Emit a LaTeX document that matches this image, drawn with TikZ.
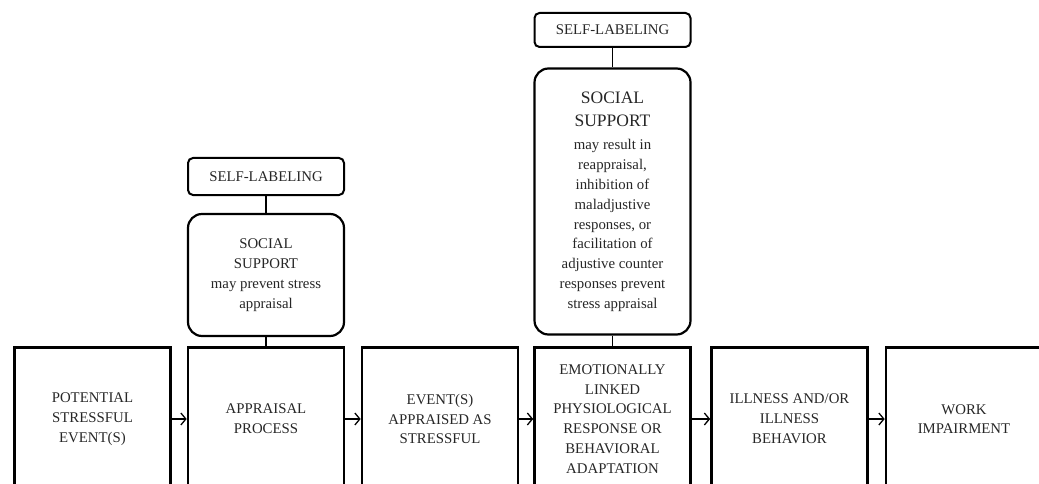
\documentclass[tikz,border=0pt]{standalone}
\usepackage{fontspec}
\setmainfont{Liberation Serif}
\usetikzlibrary{arrows.meta}
\newcommand\bigline[1]{{\fontsize{17.5}{23}\selectfont #1}}

\begin{document}
\begin{tikzpicture}[x=1pt,y=-1pt,
  txt/.style={align=center,inner sep=0pt,text=black!85,font=\fontsize{14.8}{19.8}\selectfont},
  stage/.style={txt,draw,line width=2.6pt,minimum width=156pt,minimum height=143pt},
  support/.style={txt,draw,line width=2.2pt,rounded corners=14pt,minimum width=156pt},
  selflabel/.style={txt,draw,line width=2pt,rounded corners=5pt,minimum width=156pt},
  link/.style={line width=1.2pt},
  flow/.style={line width=1.3pt,-{Straight Barb[length=5pt,width=12pt,line width=1.3pt]}}]
\useasboundingbox (0,0) rectangle (1039,484);
\clip (0,0) rectangle (1039,484);
% main chain
\node[stage] (b1) at (92.5,419) {POTENTIAL\\STRESSFUL\\EVENT(S)};
\node[stage] (b2) at (266,419) {APPRAISAL\\PROCESS};
\node[stage] (b3) at (440,419) {EVENT(S)\\APPRAISED AS\\STRESSFUL};
\node[stage] (b4) at (612.5,419) {EMOTIONALLY\\LINKED\\PHYSIOLOGICAL\\RESPONSE OR\\BEHAVIORAL\\ADAPTATION};
\node[stage] (b5) at (789.5,419) {ILLNESS AND/OR\\ILLNESS\\BEHAVIOR};
\node[stage] (b6) at (964,419) {WORK\\IMPAIRMENT};
\foreach \a/\b in {b1/b2,b2/b3,b3/b4,b4/b5,b5/b6}
  \draw[flow] (\a) -- (\b);
% first moderator
\node[selflabel,minimum height=37pt] (sl1) at (266,176.5) {SELF-LABELING};
\node[support,minimum height=122pt] (ss1) at (266,275) {SOCIAL\\SUPPORT\\may prevent stress\\appraisal};
\draw[link] (sl1) -- (ss1);
\draw[link] (ss1) -- (b2);
% second moderator
\node[selflabel,minimum height=34pt] (sl2) at (612.5,30) {SELF-LABELING};
\node[support,minimum height=266pt] (ss2) at (612.5,201.5)
  {\bigline{SOCIAL}\\[3pt]\bigline{SUPPORT}\\[4pt]may result in\\reappraisal,\\inhibition of\\maladjustive\\responses, or\\facilitation of\\adjustive counter\\responses prevent\\stress appraisal};
\draw[link] (sl2) -- (ss2);
\draw[link] (ss2) -- (b4);
\end{tikzpicture}
\end{document}
